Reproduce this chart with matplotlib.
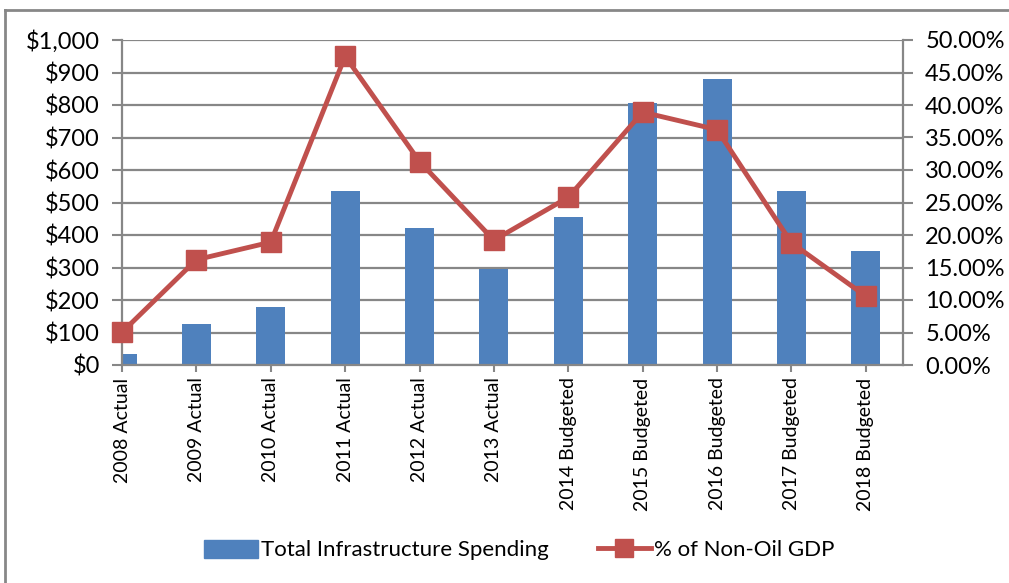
import matplotlib.pyplot as plt
from matplotlib.ticker import FuncFormatter
from matplotlib.lines import Line2D
from matplotlib.patches import Patch

plt.rcParams["font.family"] = ["Lato", "DejaVu Sans"]

categories = ["2008 Actual", "2009 Actual", "2010 Actual", "2011 Actual", "2012 Actual",
              "2013 Actual", "2014 Budgeted", "2015 Budgeted", "2016 Budgeted",
              "2017 Budgeted", "2018 Budgeted"]
spending = [33, 125, 178, 535, 423, 295, 456, 806, 880, 535, 351]
pct_non_oil_gdp = [5.04, 16.2, 18.9, 47.5, 31.3, 19.2, 25.8, 38.9, 36.2, 18.8, 10.6]

BLUE = "#4F81BD"
RED = "#C0504D"
GRID = "#878787"

fig = plt.figure(figsize=(10.09, 5.83), dpi=100)
ax = fig.add_axes([122 / 1009, 1 - 365 / 583, (903 - 122) / 1009, (365 - 40) / 583])
ax2 = ax.twinx()

x = list(range(len(categories)))
ax.bar(x, spending, width=0.39, color=BLUE, zorder=2)
ax.set_xlim(0, 10.5)
ax.set_ylim(0, 1000)
ax.set_yticks(range(0, 1001, 100))
ax.yaxis.set_major_formatter(FuncFormatter(lambda v, p: f"${v:,.0f}"))
ax.grid(axis="y", color=GRID, linewidth=1.6, zorder=0)
ax.set_axisbelow(True)
ax.set_xticks(x)
ax.set_xticklabels(categories, rotation=90, fontsize=14)

ax2.plot(x, [v / 100 for v in pct_non_oil_gdp], color=RED, linewidth=3.5, marker="s",
         markersize=14, markerfacecolor=RED, markeredgecolor=RED, clip_on=False, zorder=5)
ax2.set_ylim(0, 0.5)
ax2.set_yticks([i * 0.05 for i in range(11)])
ax2.yaxis.set_major_formatter(FuncFormatter(lambda v, p: f"{v * 100:.2f}%"))

for a in (ax, ax2):
    for side in ("top", "right", "left", "bottom"):
        a.spines[side].set_visible(False)
    a.tick_params(axis="y", labelsize=17, colors=GRID, labelcolor="black", length=7,
                  width=1.5, pad=9)
    a.tick_params(axis="x", colors=GRID, labelcolor="black", length=5, width=1.5, pad=4)
for a, side in ((ax, "left"), (ax, "bottom"), (ax2, "right")):
    a.spines[side].set_visible(True)
    a.spines[side].set_color(GRID)
    a.spines[side].set_linewidth(1.6)

handles = [Patch(color=BLUE, label="Total Infrastructure Spending"),
           Line2D([], [], color=RED, linewidth=3.5, marker="s", markersize=13,
                  label="% of Non-Oil GDP")]
fig.legend(handles=handles, loc="center", bbox_to_anchor=(0.515, 1 - 550 / 583), ncol=2,
           frameon=False, fontsize=16, handlelength=2.4, handleheight=0.9,
           columnspacing=2.2, handletextpad=0.15)

# chart frame (only left and top edges fall inside the image)
fig.add_artist(Line2D([5 / 1009, 5 / 1009], [0, 1 - 10 / 583], transform=fig.transFigure,
                      color=GRID, linewidth=2))
fig.add_artist(Line2D([5 / 1009, 1], [1 - 10 / 583, 1 - 10 / 583], transform=fig.transFigure,
                      color=GRID, linewidth=2))

fig.savefig("out.png", dpi=100)
